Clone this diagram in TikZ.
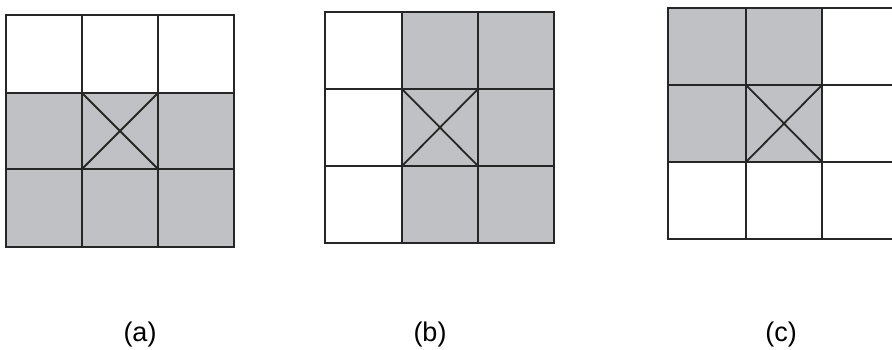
\documentclass[tikz,border=0pt]{standalone}
\usepackage{fontspec}
\setsansfont{Liberation Sans}
\usetikzlibrary{positioning}
\definecolor{cellgray}{RGB}{192,193,196}

\begin{document}
\begin{tikzpicture}[
    x=1pt, y=-1pt,
    cellfill/.style={fill=cellgray},
    gridln/.style={line width=1.8pt, black!85},
    crossln/.style={line width=1.8pt, black!85},
    lbl/.style={font=\sffamily\fontsize{27}{27}\selectfont, inner sep=0pt},
]
\clip (0,0) rectangle (892,350);
\useasboundingbox (0,0) rectangle (892,350);
% (a)
\fill[cellfill] (6,93) rectangle (234,247);
\draw[gridln] (6,15) rectangle (234,247);
\draw[gridln] (82,15) -- (82,247);
\draw[gridln] (158,15) -- (158,247);
\draw[gridln] (6,93) -- (234,93);
\draw[gridln] (6,169) -- (234,169);
\draw[crossln] (82,93) -- (158,169);
\draw[crossln] (158,93) -- (82,169);
\node[lbl] (lbla) at (140,335) {(a)};
% (b)
\fill[cellfill] (402,12) rectangle (554,243);
\draw[gridln] (325,12) rectangle (554,243);
\draw[gridln] (402,12) -- (402,243);
\draw[gridln] (478,12) -- (478,243);
\draw[gridln] (325,89) -- (554,89);
\draw[gridln] (325,166) -- (554,166);
\draw[crossln] (402,89) -- (478,166);
\draw[crossln] (478,89) -- (402,166);
\node[lbl] (lblb) at (430,335) {(b)};
% (c)
\fill[cellfill] (668,8) rectangle (822,162);
\draw[gridln] (668,8) rectangle (898,239);
\draw[gridln] (746,8) -- (746,239);
\draw[gridln] (822,8) -- (822,239);
\draw[gridln] (668,85) -- (898,85);
\draw[gridln] (668,162) -- (898,162);
\draw[crossln] (746,85) -- (822,162);
\draw[crossln] (822,85) -- (746,162);
\node[lbl] (lblc) at (781,335) {(c)};
\end{tikzpicture}
\end{document}
